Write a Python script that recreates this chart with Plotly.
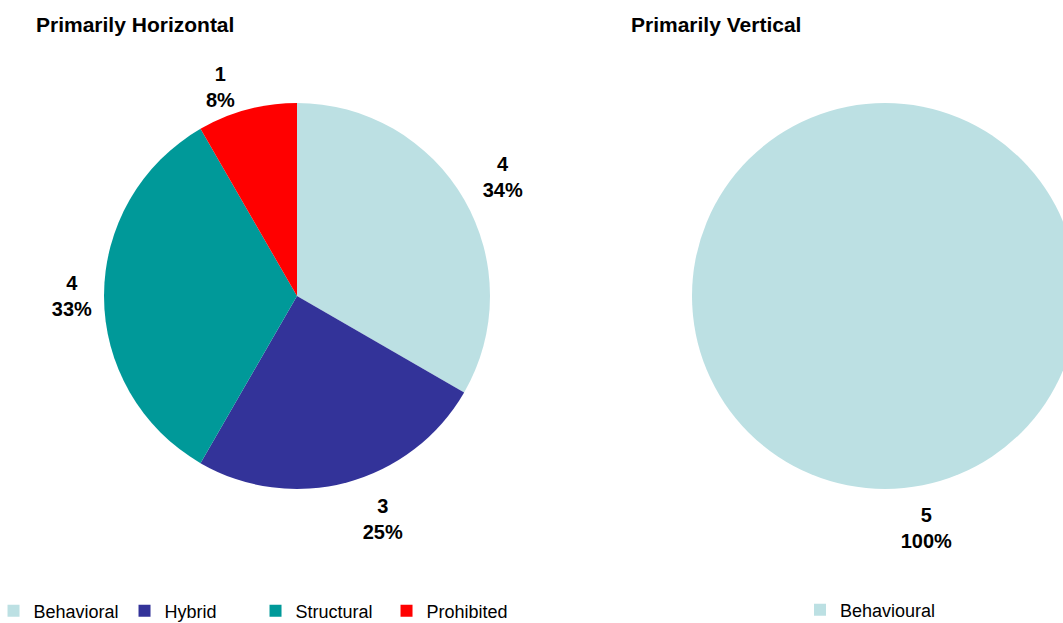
import plotly.graph_objects as go

# ---- data ----
left_categories = ["Behavioral", "Hybrid", "Structural", "Prohibited"]
left_values = [4, 3, 4, 1]
left_percent_labels = ["34%", "25%", "33%", "8%"]

right_categories = ["Behavioural"]
right_values = [5]
right_percent_labels = ["100%"]

left_colors = ["#BCE0E3", "#333399", "#009999", "#FF0000"]
right_colors = ["#BCE0E3"]

titles = ["Primarily Horizontal", "Primarily Vertical"]

# ---- layout geometry ----
W, H = 1080, 623
FONT = "Liberation Sans, Arial, sans-serif"


def dom_x(cx, r):
    return [(cx - r) / W, (cx + r) / W]


def dom_y(cy, r):
    return [(H - cy - r) / H, (H - cy + r) / H]


BASE = "%{value}<br>%{text}"
# a small blank first line pushes bottom labels a little further from the pie
BELOW = "<span style='font-size:8px'>&nbsp;</span><br>%{value}<br>%{text}"
# a blank last line pushes a top label a little further from the pie
ABOVE = "%{value}<br>%{text}<br>&nbsp;"

label_font = dict(family=FONT, size=20, color="black", weight="bold")

fig = go.Figure()
fig.add_trace(go.Pie(
    labels=left_categories,
    values=left_values,
    text=left_percent_labels,
    texttemplate=[ABOVE, BELOW, BASE, BASE],
    textposition="outside",
    textfont=label_font,
    outsidetextfont=label_font,
    marker=dict(colors=left_colors, line=dict(width=0)),
    sort=False,
    direction="clockwise",
    rotation=0,
    domain=dict(x=dom_x(297, 193), y=dom_y(296, 193)),
    legend="legend",
))
fig.add_trace(go.Pie(
    labels=right_categories,
    values=right_values,
    text=right_percent_labels,
    texttemplate=[BELOW],
    textposition="outside",
    textfont=label_font,
    outsidetextfont=label_font,
    marker=dict(colors=right_colors, line=dict(width=0)),
    sort=False,
    direction="clockwise",
    rotation=0,
    domain=dict(x=dom_x(885, 193), y=dom_y(296, 193)),
    legend="legend2",
))

legend_font = dict(family=FONT, size=18, color="black")

fig.update_layout(
    width=W,
    height=H,
    margin=dict(l=0, r=0, t=0, b=0, autoexpand=False),
    paper_bgcolor="white",
    plot_bgcolor="white",
    font=dict(family=FONT, color="black"),
    showlegend=True,
    legend=dict(
        orientation="h",
        x=-0.006, xanchor="left",
        y=12 / H, yanchor="middle",
        font=legend_font,
        bgcolor="rgba(0,0,0,0)",
        traceorder="normal",
        entrywidth=86,
        entrywidthmode="pixels",
    ),
    legend2=dict(
        orientation="h",
        x=800 / W, xanchor="left",
        y=13 / H, yanchor="middle",
        font=legend_font,
        bgcolor="rgba(0,0,0,0)",
    ),
    annotations=[
        dict(text="<b>" + titles[0] + "</b>", x=34 / W, xref="paper", xanchor="left",
             y=(H - 24) / H, yref="paper", yanchor="middle", showarrow=False,
             font=dict(family=FONT, size=21, color="black")),
        dict(text="<b>" + titles[1] + "</b>", x=629 / W, xref="paper", xanchor="left",
             y=(H - 24) / H, yref="paper", yanchor="middle", showarrow=False,
             font=dict(family=FONT, size=21, color="black")),
    ],
)

fig.write_html(
    "out.html",
    post_script="document.body.style.margin='0';document.body.style.overflow='hidden';"
                "document.documentElement.style.overflow='hidden';",
)
